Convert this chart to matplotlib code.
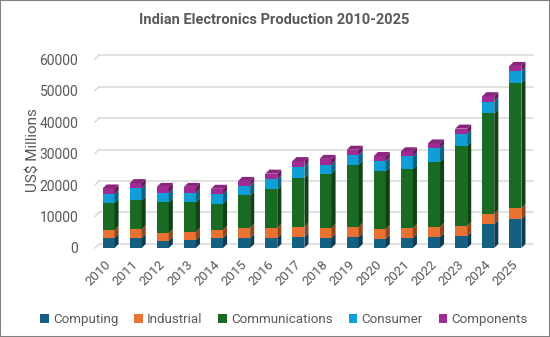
import numpy as np
import matplotlib
matplotlib.use("Agg")
import matplotlib.pyplot as plt
from matplotlib.patches import Polygon, Rectangle
from matplotlib.colors import to_rgb
import matplotlib.transforms as mtransforms

plt.rcParams['font.family'] = ['Roboto', 'DejaVu Sans']

# ---- data (US$ millions) ----
years = [str(y) for y in range(2010, 2026)]
computing = [3200, 3200, 2300, 2600, 3200, 3200, 3200, 3500, 3200, 3500, 2900, 3200, 3500, 3800, 7600, 9200]
industrial = [2500, 2700, 2400, 2600, 2600, 3200, 3200, 3200, 3200, 3200, 3200, 3200, 3200, 3200, 3200, 3500]
communications = [8600, 9300, 9800, 9300, 8300, 10300, 12200, 15600, 17200, 19800, 18300, 18700, 20700, 25400, 31900, 39700]
consumer = [2700, 3700, 3000, 2900, 2900, 3000, 3200, 3500, 2900, 2900, 3200, 4000, 4200, 3800, 3800, 3800]
components = [1900, 1700, 1900, 2000, 1800, 1600, 1800, 1800, 1800, 1800, 1600, 1600, 1600, 1700, 1700, 1600]

series_names = ["Computing", "Industrial", "Communications", "Consumer", "Components"]
series = [computing, industrial, communications, consumer, components]
colors = ["#156082", "#E97132", "#196B24", "#0F9ED5", "#A02B93"]

grey = "#595959"

def shade(c, f):
    r, g, b = to_rgb(c)
    return (r * f, g * f, b * f)

fig = plt.figure(figsize=(5.5, 3.37), dpi=100)
ax = fig.add_axes([0.1727, 0.2641, 0.7891, 0.5795])

ymax = 62000
ax.set_xlim(-0.5, 15.5)
ax.set_ylim(0, ymax)

# pseudo 3d depth, in data units
dx = 0.15
dy = 1270
w = 0.44

# back-wall gridlines with the little slanted floor/side lines
for gy in range(0, 60001, 10000):
    ax.plot([-0.5 + dx, 15.5 + dx], [gy + dy, gy + dy], color="#d9d9d9", lw=1.1, zorder=1, clip_on=False)
    ax.plot([-0.5, -0.5 + dx], [gy, gy + dy], color="#d9d9d9", lw=1.1, zorder=1, clip_on=False)

x = np.arange(len(years))
bottom = np.zeros(len(years))
for name, vals, col in zip(series_names, series, colors):
    vals = np.array(vals, dtype=float)
    ax.bar(x, vals, w, bottom=bottom, color=col, label=name, zorder=3, linewidth=0)
    for xi, b0, v in zip(x, bottom, vals):
        r = xi + w / 2
        side = Polygon([(r, b0), (r + dx, b0 + dy), (r + dx, b0 + v + dy), (r, b0 + v)],
                       closed=True, facecolor=shade(col, 0.62), edgecolor="none", zorder=3)
        ax.add_patch(side)
    bottom = bottom + vals

# top faces
for xi, top in zip(x, bottom):
    l, r = xi - w / 2, xi + w / 2
    lid = Polygon([(l, top), (l + dx, top + dy), (r + dx, top + dy), (r, top)],
                  closed=True, facecolor=shade(colors[-1], 0.85), edgecolor="none", zorder=4)
    ax.add_patch(lid)

for s in ax.spines.values():
    s.set_visible(False)

ax.set_yticks(range(0, 60001, 10000))
ax.set_yticklabels([str(v) for v in range(0, 60001, 10000)])
ax.tick_params(axis="y", length=0, pad=12, labelsize=10, labelcolor=grey)
ax.set_xticks(x)
ax.set_xticklabels(years, rotation=45, ha="right", rotation_mode="anchor")
ax.tick_params(axis="x", length=0, pad=7, labelsize=9.5, labelcolor=grey)
offset = mtransforms.ScaledTranslation(-4 / 100, 0, fig.dpi_scale_trans)
for lab in ax.get_xticklabels():
    lab.set_transform(lab.get_transform() + offset)

ax.set_ylabel("US$ Millions", fontsize=11, color=grey, labelpad=-1)
fig.text(0.498, 0.94, "Indian Electronics Production 2010-2025", ha="center", va="center",
         fontsize=10.5, fontweight="bold", color=grey)

handles, labels = ax.get_legend_handles_labels()
fig.legend(handles, labels, loc="center", bbox_to_anchor=(0.516, 0.052), ncol=5, frameon=False,
           fontsize=9.6, labelcolor=grey, handlelength=0.65, handleheight=0.65,
           handletextpad=0.3, columnspacing=1.2)

# thin frame round the whole picture
fig.patches.append(Rectangle((0, 0), 1, 1, transform=fig.transFigure, fill=False,
                             edgecolor="#7f7f7f", linewidth=1.5))

fig.savefig("out.png", dpi=100)
